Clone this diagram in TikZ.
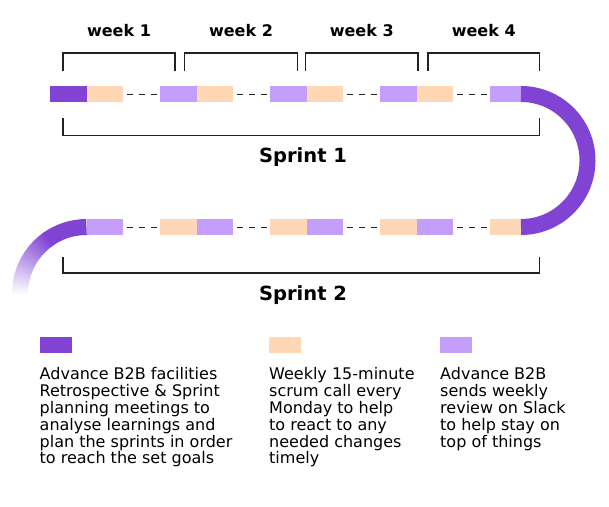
\documentclass[tikz,border=0pt]{standalone}
\usepackage{fontspec}
\setmainfont{DejaVu Sans}
\usetikzlibrary{positioning}
\definecolor{retroPurple}{HTML}{8143D3}
\definecolor{callPeach}{HTML}{FFD7B5}
\definecolor{reviewLilac}{HTML}{C39FFB}
\definecolor{inkGray}{HTML}{222222}

\begin{document}
\begin{tikzpicture}[
        x=1pt, y=-1pt,
        seg/.style={minimum width=36.5pt, minimum height=16pt, inner sep=0pt,
            outer sep=0pt, anchor=west},
        retro/.style={seg, fill=retroPurple},
        call/.style={seg, fill=callPeach},
        review/.style={seg, fill=reviewLilac},
        gap/.style={draw=inkGray, line width=0.9pt, dash pattern=on 6pt off 6pt,
            shorten <=4pt, shorten >=3pt},
        bracket/.style={draw=inkGray, line width=1.4pt},
        track/.style={draw=retroPurple, line width=16pt},
        weeklabel/.style={font=\bfseries\fontsize{16}{16}\selectfont, anchor=base},
        sprintlabel/.style={font=\bfseries\fontsize{19.5}{20}\selectfont, anchor=base},
        keybox/.style={minimum width=32pt, minimum height=16pt, inner sep=0pt,
            anchor=north west},
        keytext/.style={font=\fontsize{16}{16.8}\selectfont, align=left,
            inner sep=0pt}
    ]
    \useasboundingbox (0,0) rectangle (609,506);

    % week brackets
    \foreach \w/\l/\r in {1/63/175, 2/184.5/297.5, 3/305.5/418, 4/428/539.5} {
        \draw[bracket] (\l,71) |- (\r,53) -- (\r,71);
        \node[weeklabel] (week\w) at ({(\l+\r)/2},36.7) {week \w};
    }

    % sprint 1 run
    \node[retro] (tA1) at (50,94) {};
    \node[call, right=0pt of tA1] (tB1) {};
    \foreach \w in {2,3,4} {
        \pgfmathsetmacro\x{50+110*(\w-1)}
        \node[review] (tA\w) at (\x,94) {};
        \node[call, right=0pt of tA\w] (tB\w) {};
    }
    \node[review, minimum width=31pt] (tEnd) at (490,94) {};
    \foreach \w/\n in {1/A2,2/A3,3/A4,4/End}
        \draw[gap] (tB\w) -- (t\n);

    % sprint 2 run
    \node[review] (bA1) at (86.5,227) {};
    \foreach \w in {2,3,4} {
        \pgfmathsetmacro\x{50+110*(\w-1)}
        \node[call] (bB\w) at (\x,227) {};
        \node[review, right=0pt of bB\w] (bA\w) {};
    }
    \node[call, minimum width=31pt] (bEnd) at (490,227) {};
    \foreach \w/\n in {1/B2,2/B3,3/B4,4/End}
        \draw[gap] (bA\w) -- (b\n);

    % turn and fading tail
    \draw[track] (tEnd.east) arc[start angle=90, end angle=-90, radius=66.5pt];
    \coordinate (tailC) at ([yshift=-66.5pt]bA1.west);
    \draw[track] (bA1.west) arc[start angle=90, end angle=126, radius=66.5pt];
    \foreach \a in {124,126,...,178} {
        \pgfmathsetmacro\pc{100*(1-(\a-124)/56)}
        \draw[track, draw=retroPurple!\pc!white] (tailC) ++(\a:66.5pt)
            arc[start angle=\a, end angle=\a+2.5, radius=66.5pt];
    }

    % sprint brackets
    \draw[bracket] (63,118) |- (539.5,135.5) -- (539.5,118);
    \node[sprintlabel] (sprint1) at (303,162.7) {Sprint 1};
    \draw[bracket] (63,256.5) |- (539.5,273) -- (539.5,256.5);
    \node[sprintlabel] (sprint2) at (303,300) {Sprint 2};

    % legend
    \node[keybox, fill=retroPurple] (keyRetro) at (39.5,336.7) {};
    \node[keybox, fill=callPeach] (keyCall) at (269,336.7) {};
    \node[keybox, fill=reviewLilac] (keyReview) at (440,336.7) {};
    \node[keytext, below right=14.4pt and 0pt of keyRetro.south west] (txtRetro)
    {Advance B2B facilities\\Retrospective \& Sprint\\planning meetings to\\
    analyse learnings and\\plan the sprints in order\\to reach the set goals};
    \node[keytext, below right=14.4pt and 0pt of keyCall.south west] (txtCall)
    {Weekly 15-minute\\scrum call every\\Monday to help\\to react to any\\
    needed changes\\timely};
    \node[keytext, below right=14.4pt and 0pt of keyReview.south west] (txtReview)
    {Advance B2B\\sends weekly\\review on Slack\\to help stay on\\top of things};
\end{tikzpicture}
\end{document}
